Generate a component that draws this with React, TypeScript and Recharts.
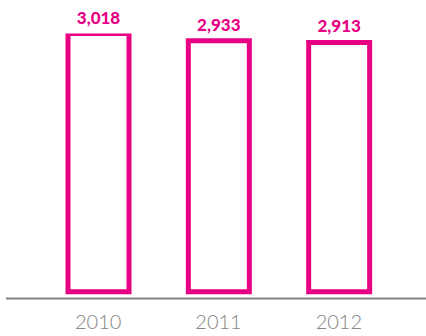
import React from 'react';
import { BarChart, Bar, XAxis, YAxis, LabelList } from 'recharts';

const PINK = '#e80084';
const GREY = '#858585';

const years = ['2010', '2011', '2012'];
const values = [3018, 2933, 2913];

const data = years.map((year, i) => ({ year, value: values[i] }));

export default function App() {
  return (
    <div style={{ position: 'absolute', left: 0, top: 0 }}>
      <BarChart width={426} height={336} data={data} margin={{ top: 33.5, right: 0, left: 6, bottom: 7.5 }}>
        <XAxis
          dataKey="year"
          padding={{ left: 32, right: 27 }}
          axisLine={{ stroke: GREY, strokeWidth: 2 }}
          tickLine={false}
          tickMargin={10}
          tick={{ fontSize: 20, fill: GREY, fontFamily: 'Lato', fontWeight: 300 }}
        />
        <YAxis hide type="number" domain={[-80, 3018]} allowDataOverflow />
        <Bar dataKey="value" fill="#fff" stroke={PINK} strokeWidth={5} barSize={61} isAnimationActive={false}>
          <LabelList
            dataKey="value"
            position="top"
            offset={10}
            formatter={(v: number) => v.toLocaleString('en-US')}
            style={{ fontSize: 17, fontWeight: 900, fill: PINK, fontFamily: 'Lato' }}
          />
        </Bar>
      </BarChart>
    </div>
  );
}
